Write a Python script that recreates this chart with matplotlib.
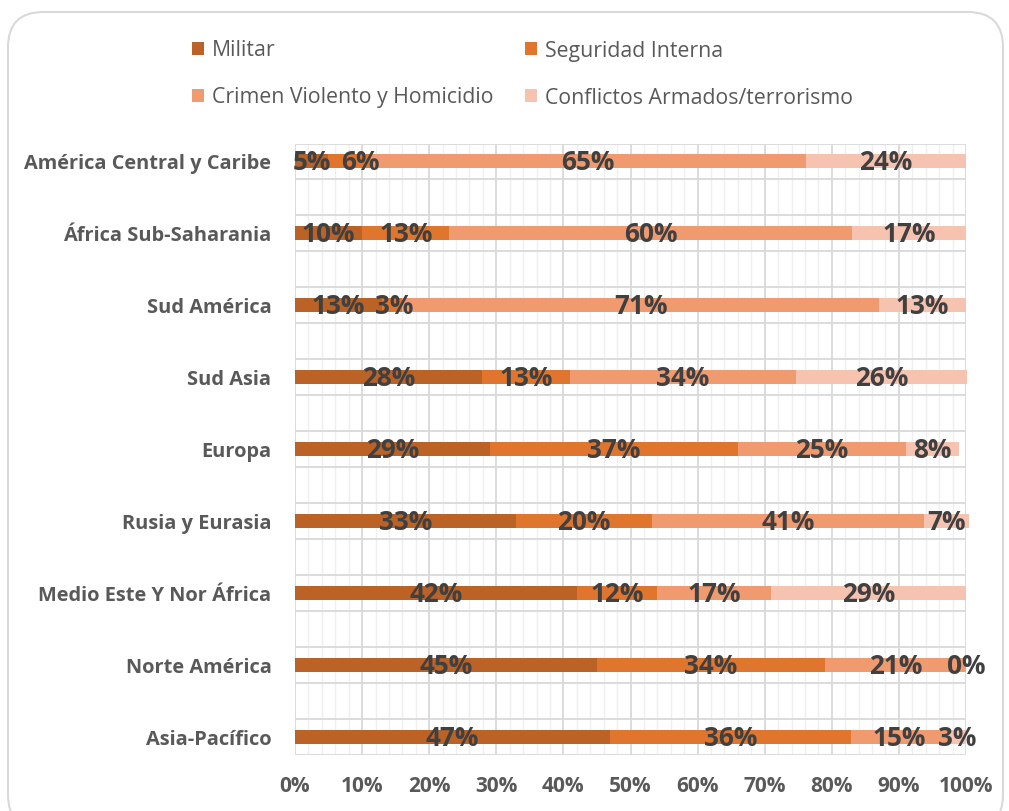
import matplotlib
matplotlib.use("Agg")
import matplotlib.pyplot as plt
from matplotlib.patches import FancyBboxPatch, Rectangle
import numpy as np

categories = ["América Central y Caribe", "África Sub-Saharania", "Sud América",
              "Sud Asia", "Europa", "Rusia y Eurasia", "Medio Este Y Nor África",
              "Norte América", "Asia-Pacífico"]
series_names = ["Militar", "Seguridad Interna", "Crimen Violento y Homicidio",
                "Conflictos Armados/terrorismo"]
militar = [4.9, 10, 13, 27.9, 29, 32.9, 42, 45, 47]
seguridad = [6.4, 13, 3, 13.1, 37, 20.3, 12, 34, 35.8]
crimen = [64.8, 60, 71, 33.6, 25, 40.6, 17, 21, 14.6]
conflictos = [23.9, 17, 13, 25.6, 8, 6.6, 29, 0, 2.6]
colors = ["#BB6226", "#E0752E", "#F09A70", "#F6C3B0"]
xtick_labels = ["0%", "10%", "20%", "30%", "40%", "50%", "60%", "70%", "80%", "90%", "100%"]

W, H = 1009, 811
plt.rcParams['font.family'] = ['Open Sans', 'DejaVu Sans']
fig = plt.figure(figsize=(W / 100, H / 100), dpi=100)

# rounded chart border
border = FancyBboxPatch((8 / W, 1 - 830 / H), (1003 - 8) / W, (830 - 12) / H,
                        boxstyle="round,pad=0,rounding_size=0.035",
                        transform=fig.transFigure, facecolor="none",
                        edgecolor="#D9D9D9", linewidth=1.5, zorder=-1,
                        mutation_aspect=W / H)
fig.patches.append(border)

left, right, top, bottom = 295 / W, 966 / W, 1 - 143.5 / H, 1 - 755 / H
ax = fig.add_axes([left, bottom, right - left, top - bottom])
ax.set_facecolor("none")

y = np.arange(len(categories))
data = [militar, seguridad, crimen, conflictos]
lefts = np.zeros(len(categories))
row_labels = [[] for _ in categories]
for vals, col, name in zip(data, colors, series_names):
    v = np.array(vals) / 100.0
    ax.barh(y, v, left=lefts, height=0.195, color=col, label=name,
            zorder=3, clip_on=False, linewidth=0)
    for yi, (l, w, raw) in enumerate(zip(lefts, v, vals)):
        t = ax.text(l + w / 2, yi + 0.02, f"{raw:.0f}%", ha="center", va="center",
                    fontsize=18.8, fontweight="bold", color="#404040", zorder=5,
                    clip_on=False)
        row_labels[yi].append(t)
    lefts = lefts + v

ax.set_xlim(0, 1)
ax.set_ylim(len(categories) - 1 + 0.25, -0.25)
ax.set_xticks(np.linspace(0, 1, 11))
ax.set_xticklabels(xtick_labels)
ax.set_xticks(np.arange(0, 1.0001, 0.02), minor=True)
ax.set_yticks(y)
ax.set_yticklabels(categories)
ax.set_yticks(np.sort(np.concatenate([y - 0.25, y + 0.25])), minor=True)

ax.xaxis.grid(True, which="major", color="#D9D9D9", linewidth=1.3, zorder=1)
ax.xaxis.grid(True, which="minor", color="#EFEFEF", linewidth=1.0, zorder=0)
ax.yaxis.grid(True, which="minor", color="#D9D9D9", linewidth=1.3, zorder=1)
ax.yaxis.grid(False, which="major")
ax.set_axisbelow(True)
for s in ax.spines.values():
    s.set_visible(False)
ax.tick_params(axis="both", which="both", length=0)
ax.tick_params(axis="y", pad=17)
ax.tick_params(axis="x", pad=15)
for lab in ax.get_yticklabels():
    lab.set_fontsize(14.4)
    lab.set_fontweight("bold")
    lab.set_color("#595959")
for lab in ax.get_xticklabels():
    lab.set_fontsize(15)
    lab.set_fontweight("bold")
    lab.set_color("#595959")

# nudge overlapping data labels to the right (as the original chart does)
fig.canvas.draw()
renderer = fig.canvas.get_renderer()
px_per_unit = ax.transData.transform((1, 0))[0] - ax.transData.transform((0, 0))[0]
for labels in row_labels:
    prev_right = None
    for t in labels:
        bb = t.get_window_extent(renderer)
        if prev_right is not None and bb.x0 < prev_right + 10:
            shift = (prev_right + 10 - bb.x0) / px_per_unit
            x0, y0 = t.get_position()
            t.set_position((x0 + shift, y0))
            bb = t.get_window_extent(renderer)
        prev_right = bb.x1

# legend (2 columns)
leg_x = [192, 525]
leg_y = [49, 96]
for i, (name, col) in enumerate(zip(series_names, colors)):
    cx = leg_x[i % 2]
    cy = leg_y[i // 2]
    fig.patches.append(Rectangle((cx / W, 1 - (cy + 6) / H), 12 / W, 13 / H,
                                 transform=fig.transFigure, facecolor=col,
                                 edgecolor="none"))
    fig.text((cx + 20) / W, 1 - (cy + 2) / H, name, ha="left", va="center",
             fontsize=15.3, color="#595959")

fig.savefig("out.png", dpi=100)
